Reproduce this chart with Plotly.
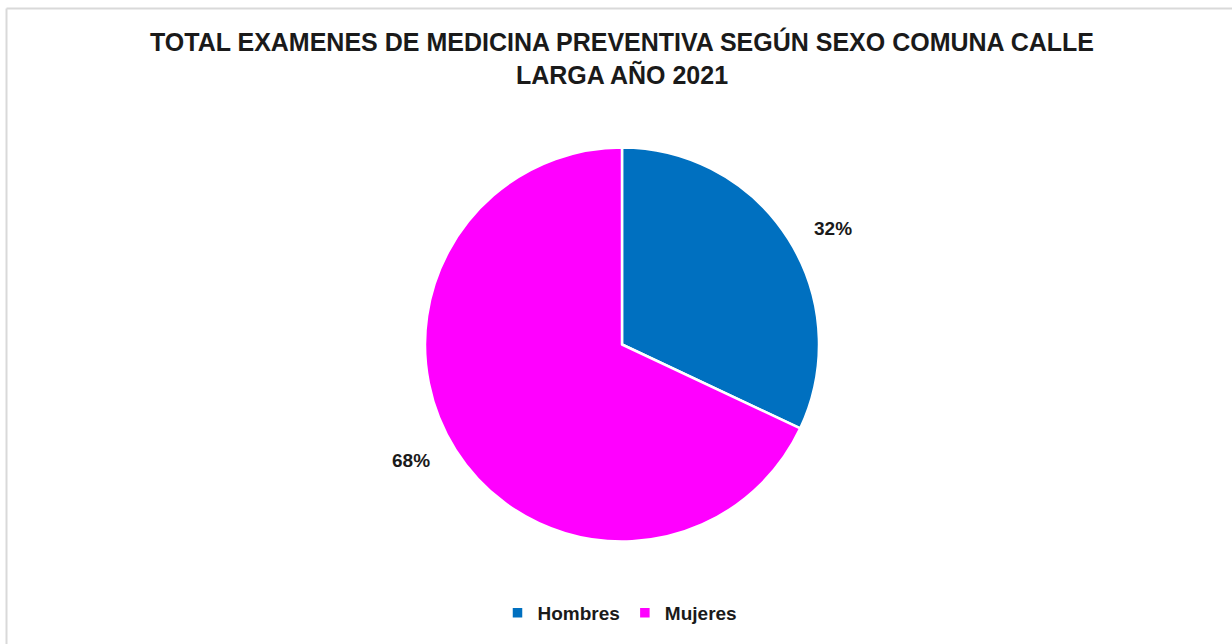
import math
import plotly.graph_objects as go

labels = ["Hombres", "Mujeres"]
values = [32, 68]
colors = ["#0070C0", "#FF00FF"]
title_text = "TOTAL EXAMENES DE MEDICINA PREVENTIVA SEGÚN SEXO COMUNA CALLE<br>LARGA AÑO 2021"

W, H = 1232, 644
cx, cy, r = 622, 344.5, 197

fig = go.Figure(go.Pie(
    labels=labels,
    values=values,
    sort=False,
    direction="clockwise",
    rotation=0,
    marker=dict(colors=colors, line=dict(color="white", width=2.5)),
    textinfo="none",
    hoverinfo="label+percent",
    domain=dict(x=[(cx - r) / W, (cx + r) / W], y=[(H - cy - r) / H, (H - cy + r) / H]),
    showlegend=True,
))

# percentage labels placed outside each slice, at the slice's mid angle
total = sum(values)
rx, ry = 250, 216
annotations = []
cum = 0
for v in values:
    frac_mid = (cum + v / 2) / total
    cum += v
    theta = math.radians(90 - 360 * frac_mid)
    px = cx + rx * math.cos(theta)
    py = cy - ry * math.sin(theta)
    annotations.append(dict(
        text=f"{round(100 * v / total)}%",
        x=px / W, y=1 - py / H, xref="paper", yref="paper",
        xanchor="center", yanchor="middle", showarrow=False,
        font=dict(family="Liberation Sans", size=19, color="#1a1a1a", weight="bold"),
    ))

fig.update_layout(
    width=W, height=H,
    margin=dict(l=0, r=0, t=0, b=0),
    paper_bgcolor="white",
    plot_bgcolor="white",
    font=dict(family="Liberation Sans", color="#1a1a1a"),
    title=dict(
        text=title_text,
        x=622 / W, xanchor="center", xref="paper",
        y=1 - 51 / H, yanchor="middle", yref="paper",
        font=dict(family="Liberation Sans", size=25, color="#1a1a1a", weight="bold"),
    ),
    legend=dict(
        orientation="h",
        x=620 / W, xanchor="center",
        y=(H - 613) / H, yanchor="middle",
        font=dict(family="Liberation Sans", size=19, color="#1a1a1a", weight="bold"),
        itemwidth=30,
    ),
    annotations=annotations,
    shapes=[
        dict(type="line", xref="paper", yref="paper", x0=6.5 / W, x1=1.0, y0=1 - 8.5 / H, y1=1 - 8.5 / H,
             line=dict(color="#d9d9d9", width=2)),
        dict(type="line", xref="paper", yref="paper", x0=6.5 / W, x1=6.5 / W, y0=0, y1=1 - 8.5 / H,
             line=dict(color="#d9d9d9", width=2)),
    ],
)

fig.write_html("out.html")
